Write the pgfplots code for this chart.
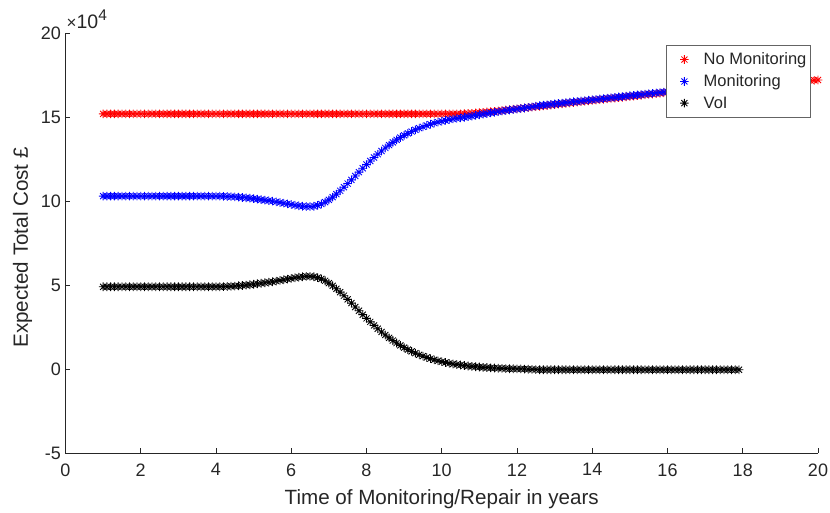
\documentclass[border=0pt]{standalone}
\usepackage{pgfplots}
\pgfplotsset{compat=1.18}
\usepackage{pgfplotstable}
\usepackage{fontspec}
\setmainfont{Liberation Sans}

\definecolor{axgray}{RGB}{38,38,38}
\definecolor{legframe}{RGB}{100,100,100}

% eight-armed asterisk: a plus and a cross on top of each other
\pgfdeclareplotmark{mstar}{%
  \pgfpathmoveto{\pgfqpoint{-\pgfplotmarksize}{0pt}}%
  \pgfpathlineto{\pgfqpoint{\pgfplotmarksize}{0pt}}%
  \pgfpathmoveto{\pgfqpoint{0pt}{-\pgfplotmarksize}}%
  \pgfpathlineto{\pgfqpoint{0pt}{\pgfplotmarksize}}%
  \pgfpathmoveto{\pgfqpoint{-.7071\pgfplotmarksize}{-.7071\pgfplotmarksize}}%
  \pgfpathlineto{\pgfqpoint{.7071\pgfplotmarksize}{.7071\pgfplotmarksize}}%
  \pgfpathmoveto{\pgfqpoint{-.7071\pgfplotmarksize}{.7071\pgfplotmarksize}}%
  \pgfpathlineto{\pgfqpoint{.7071\pgfplotmarksize}{-.7071\pgfplotmarksize}}%
  \pgfusepathqstroke}

% t: year of monitoring/repair; costs in units of 10^4 GBP
\pgfplotstableread{
t    nm     m      voi
1.0  15.20  10.30  4.90
1.1  15.20  10.30  4.90
1.2  15.20  10.30  4.90
1.3  15.20  10.30  4.90
1.4  15.20  10.30  4.90
1.5  15.20  10.30  4.90
1.6  15.20  10.30  4.90
1.7  15.20  10.30  4.90
1.8  15.20  10.30  4.90
1.9  15.20  10.30  4.90
2.0  15.20  10.30  4.90
2.1  15.20  10.30  4.90
2.2  15.20  10.30  4.90
2.3  15.20  10.30  4.90
2.4  15.20  10.30  4.90
2.5  15.20  10.30  4.90
2.6  15.20  10.30  4.90
2.7  15.20  10.30  4.90
2.8  15.20  10.30  4.90
2.9  15.20  10.30  4.90
3.0  15.20  10.30  4.90
3.1  15.20  10.30  4.90
3.2  15.20  10.30  4.90
3.3  15.20  10.30  4.90
3.4  15.20  10.30  4.90
3.5  15.20  10.30  4.90
3.6  15.20  10.30  4.90
3.7  15.20  10.30  4.90
3.8  15.20  10.30  4.90
3.9  15.20  10.30  4.90
4.0  15.20  10.30  4.90
4.1  15.20  10.30  4.90
4.2  15.20  10.29  4.91
4.3  15.20  10.28  4.92
4.4  15.20  10.27  4.93
4.5  15.20  10.26  4.94
4.6  15.20  10.24  4.96
4.7  15.20  10.22  4.98
4.8  15.20  10.20  5.00
4.9  15.20  10.18  5.02
5.0  15.20  10.15  5.05
5.1  15.20  10.12  5.08
5.2  15.20  10.09  5.11
5.3  15.20  10.06  5.14
5.4  15.20  10.03  5.17
5.5  15.20  10.00  5.20
5.6  15.20  9.96   5.24
5.7  15.20  9.92   5.28
5.8  15.20  9.88   5.32
5.9  15.20  9.84   5.36
6.0  15.20  9.80   5.40
6.1  15.20  9.76   5.44
6.2  15.20  9.73   5.47
6.3  15.20  9.70   5.50
6.4  15.20  9.68   5.52
6.5  15.20  9.68   5.52
6.6  15.20  9.70   5.50
6.7  15.20  9.75   5.45
6.8  15.20  9.83   5.37
6.9  15.20  9.94   5.26
7.0  15.20  10.08  5.12
7.1  15.20  10.24  4.96
7.2  15.20  10.42  4.78
7.3  15.20  10.62  4.58
7.4  15.20  10.83  4.37
7.5  15.20  11.05  4.15
7.6  15.20  11.27  3.93
7.7  15.20  11.50  3.70
7.8  15.20  11.73  3.47
7.9  15.20  11.96  3.24
8.0  15.20  12.18  3.02
8.1  15.20  12.39  2.81
8.2  15.20  12.60  2.60
8.3  15.20  12.80  2.40
8.4  15.20  12.99  2.21
8.5  15.20  13.17  2.03
8.6  15.20  13.34  1.86
8.7  15.20  13.50  1.70
8.8  15.20  13.65  1.55
8.9  15.20  13.79  1.41
9.0  15.20  13.92  1.28
9.1  15.20  14.04  1.16
9.2  15.20  14.15  1.05
9.3  15.20  14.25  0.95
9.4  15.20  14.35  0.85
9.5  15.20  14.43  0.77
9.6  15.20  14.51  0.69
9.7  15.20  14.58  0.62
9.8  15.20  14.65  0.55
9.9  15.20  14.71  0.49
10.0 15.20  14.76  0.44
10.1 15.20  14.81  0.39
10.2 15.20  14.86  0.34
10.3 15.20  14.90  0.30
10.4 15.20  14.93  0.27
10.5 15.20  14.96  0.24
10.6 15.21  15.00  0.21
10.7 15.22  15.04  0.18
10.8 15.23  15.07  0.16
10.9 15.25  15.11  0.14
11.0 15.27  15.15  0.12
11.1 15.29  15.19  0.10
11.2 15.31  15.22  0.09
11.3 15.33  15.26  0.07
11.4 15.35  15.29  0.06
11.5 15.38  15.33  0.05
11.6 15.40  15.36  0.04
11.7 15.43  15.40  0.03
11.8 15.45  15.43  0.02
11.9 15.48  15.46  0.02
12.0 15.50  15.49  0.01
12.1 15.53  15.52  0.01
12.2 15.55  15.55  0.00
12.3 15.58  15.59  -0.01
12.4 15.60  15.62  -0.02
12.5 15.63  15.66  -0.03
12.6 15.65  15.69  -0.04
12.7 15.68  15.72  -0.04
12.8 15.70  15.74  -0.04
12.9 15.73  15.77  -0.04
13.0 15.75  15.79  -0.04
13.1 15.78  15.82  -0.04
13.2 15.80  15.84  -0.04
13.3 15.83  15.87  -0.04
13.4 15.85  15.89  -0.04
13.5 15.88  15.92  -0.04
13.6 15.90  15.94  -0.04
13.7 15.93  15.97  -0.04
13.8 15.95  15.99  -0.04
13.9 15.98  16.02  -0.04
14.0 16.00  16.04  -0.04
14.1 16.02  16.06  -0.04
14.2 16.05  16.09  -0.04
14.3 16.07  16.11  -0.04
14.4 16.10  16.14  -0.04
14.5 16.12  16.16  -0.04
14.6 16.14  16.18  -0.04
14.7 16.17  16.21  -0.04
14.8 16.19  16.23  -0.04
14.9 16.22  16.26  -0.04
15.0 16.24  16.28  -0.04
15.1 16.26  16.30  -0.04
15.2 16.29  16.33  -0.04
15.3 16.31  16.35  -0.04
15.4 16.34  16.38  -0.04
15.5 16.36  16.40  -0.04
15.6 16.38  16.42  -0.04
15.7 16.41  16.45  -0.04
15.8 16.43  16.47  -0.04
15.9 16.46  16.50  -0.04
16.0 16.48  16.52  -0.04
16.1 16.50  16.54  -0.04
16.2 16.52  16.56  -0.04
16.3 16.54  16.58  -0.04
16.4 16.56  16.60  -0.04
16.5 16.59  16.63  -0.04
16.6 16.61  16.65  -0.04
16.7 16.63  16.67  -0.04
16.8 16.65  16.69  -0.04
16.9 16.67  16.71  -0.04
17.0 16.69  16.73  -0.04
17.1 16.71  16.75  -0.04
17.2 16.73  16.77  -0.04
17.3 16.75  16.79  -0.04
17.4 16.77  16.81  -0.04
17.5 16.80  16.84  -0.04
17.6 16.82  16.86  -0.04
17.7 16.84  16.88  -0.04
17.8 16.86  16.90  -0.04
17.9 16.88  16.92  -0.04
18.0 16.90  nan    nan
18.1 16.92  nan    nan
18.2 16.93  nan    nan
18.3 16.95  nan    nan
18.4 16.96  nan    nan
18.5 16.98  nan    nan
18.6 17.00  nan    nan
18.7 17.01  nan    nan
18.8 17.03  nan    nan
18.9 17.04  nan    nan
19.0 17.06  nan    nan
19.1 17.08  nan    nan
19.2 17.09  nan    nan
19.3 17.11  nan    nan
19.4 17.12  nan    nan
19.5 17.14  nan    nan
19.6 17.16  nan    nan
19.7 17.17  nan    nan
19.8 17.19  nan    nan
19.9 17.20  nan    nan
20.0 17.22  nan    nan
}\costs

\pgfplotsset{
  mstarplot/.style={only marks, mark=mstar, mark size=4.3pt, draw=#1,
    mark options={line width=0.85pt}},
}

\begin{document}
\begin{tikzpicture}
\begin{axis}[
  scale only axis,
  width=752.5pt, height=419.7pt,
  xmin=0, xmax=20, ymin=-5, ymax=20,
  enlargelimits=false,
  xtick={0,2,...,20}, ytick={-5,0,...,20},
  axis lines=left,
  axis line style={-, draw=axgray, line width=0.6pt},
  tick align=inside,
  major tick length=5pt,
  tick style={draw=axgray, line width=0.6pt},
  /pgf/number format/assume math mode=true,
  ticklabel style={font=\fontsize{18}{20}\selectfont, text=axgray},
  xticklabel style={yshift=-7pt},
  yticklabel style={xshift=-1pt},
  xlabel={Time of Monitoring/Repair in years},
  ylabel={Expected Total Cost £},
  label style={font=\fontsize{20.6}{22}\selectfont, text=axgray},
  xlabel style={at={(axis description cs:0.5,0)}, anchor=base, yshift=-52pt},
  ylabel style={at={([xshift=-43pt]axis description cs:0,0.49)}, anchor=center, rotate=0},
  legend style={
    at={(0.9903,0.9721)}, anchor=north east,
    draw=legframe, line width=0.6pt, fill=white,
    font=\fontsize{16.5}{18}\selectfont, text=axgray,
    inner xsep=2pt, inner ysep=5.5pt, row sep=4.5pt,
    cells={anchor=west},
  },
  legend image code/.code={%
    \path (0pt,0pt) (33pt,0pt);
    \draw[#1] plot coordinates {(16pt,0pt)};
  },
  legend cell align=left,
  clip=false,
]
\addplot[mstarplot=red] table[x=t, y=nm] {\costs};
\addlegendentry{No Monitoring}
\addplot[mstarplot=blue] table[x=t, y=m] {\costs};
\addlegendentry{Monitoring}
\addplot[mstarplot=black] table[x=t, y=voi] {\costs};
\addlegendentry{VoI}
\node[anchor=base west, inner sep=0pt, text=axgray, font=\fontsize{19.5}{21}\selectfont]
  at ([xshift=1pt,yshift=5pt]rel axis cs:0,1)
  {{\fontsize{17}{18}\selectfont ×}10\raisebox{0.42em}{\fontsize{15.5}{16}\selectfont 4}};
\end{axis}
\pgfresetboundingbox
\path (-65.5pt,-60pt) rectangle (764.5pt,453pt);
\end{tikzpicture}
\end{document}
